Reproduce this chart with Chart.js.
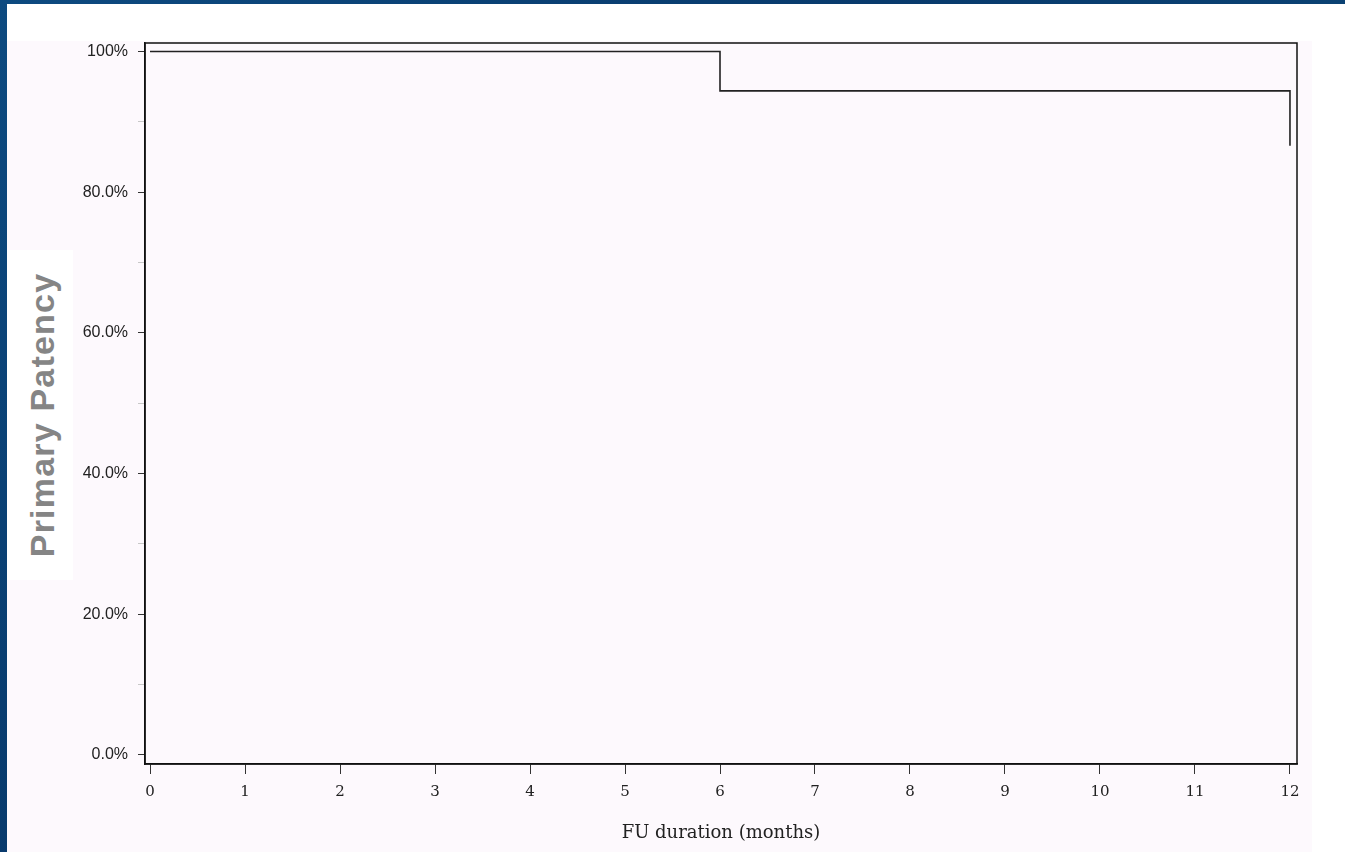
<!DOCTYPE html>
<html>
<head>
<meta charset="utf-8">
<script src="https://cdn.jsdelivr.net/npm/chart.js@4"></script>
<style>
  html, body { margin: 0; padding: 0; width: 1345px; height: 852px; overflow: hidden; }
  body { background: linear-gradient(135deg, #0d4a80 0%, #083a6c 40%, #0b4475 70%, #062f5c 100%); position: relative; }
  #panel { position: absolute; left: 7px; top: 4px; width: 1338px; height: 848px; background: #ffffff; }
  #pink { position: absolute; left: 7px; top: 41px; width: 1305px; height: 811px; background: #fdf9fd; }
  #ybox { position: absolute; left: 7px; top: 250px; width: 66px; height: 330px; background: #ffffff; }
  #ytitle { position: absolute; left: 42px; top: 415px; transform: translate(-50%, -50%) rotate(-90deg);
            font-family: "Liberation Sans", Arial, sans-serif; font-weight: bold; font-size: 34px; letter-spacing: 1.2px;
            color: #858585; white-space: nowrap; }
  canvas { position: absolute; left: 0; top: 0; }
</style>
</head>
<body>
<div id="panel"></div>
<div id="pink"></div>
<div id="ybox"></div>
<div id="ytitle">Primary Patency</div>
<canvas id="c" width="1345" height="852"></canvas>
<script>
const months = [0, 6, 12];
const patency = [100, 94.4, 86.6];
const xTicks = [0, 1, 2, 3, 4, 5, 6, 7, 8, 9, 10, 11, 12];
const yTicks = [0, 10, 20, 30, 40, 50, 60, 70, 80, 90, 100];
const yLabelStep = 20;
const xTitle = 'FU duration (months)';

const framePlugin = {
  id: 'frame',
  afterDraw(chart) {
    const {ctx, chartArea: a} = chart;
    ctx.save();
    ctx.strokeStyle = '#111';
    ctx.lineWidth = 1.5;
    ctx.strokeRect(a.left, a.top, a.right - a.left, a.bottom - a.top);
    ctx.restore();
  }
};

new Chart(document.getElementById('c'), {
  type: 'scatter',
  data: {
    datasets: [{
      data: months.map((m, i) => ({x: m, y: patency[i]})),
      showLine: true,
      stepped: 'before',
      borderColor: '#222',
      borderWidth: 1.6,
      pointRadius: 0,
      fill: false
    }]
  },
  plugins: [framePlugin],
  options: {
    responsive: false,
    animation: false,
    layout: { padding: { top: 43, right: 48, left: 0, bottom: 0 } },
    plugins: { legend: { display: false }, tooltip: { enabled: false } },
    scales: {
      x: {
        type: 'linear',
        min: -0.053,
        max: 12.074,
        afterBuildTicks(s) { s.ticks = xTicks.map(v => ({value: v})); },
        afterFit(s) { s.height = 88; },
        grid: { drawOnChartArea: false, drawTicks: true, tickLength: 10, color: '#333', tickWidth: 1 },
        border: { display: true, color: '#111', width: 1.5 },
        ticks: {
          padding: 9,
          color: '#222',
          font: { family: '"DejaVu Serif", "Liberation Serif", serif', size: 15 },
          autoSkip: false,
          maxRotation: 0,
          callback: v => String(v)
        },
        title: {
          display: true,
          text: xTitle,
          color: '#222',
          font: { family: '"DejaVu Serif", "Liberation Serif", serif', size: 18 },
          padding: { top: 0, bottom: 8 }
        }
      },
      y: {
        type: 'linear',
        min: -1.28,
        max: 101.21,
        afterBuildTicks(s) { s.ticks = yTicks.map(v => ({value: v})); },
        afterFit(s) { s.width = 145; },
        grid: {
          drawOnChartArea: false, drawTicks: true, tickLength: 7, tickWidth: 1,
          color: c => (c.tick && c.tick.value % yLabelStep === 0) ? '#333' : '#c8c8c8'
        },
        border: { display: true, color: '#111', width: 1.5 },
        ticks: {
          padding: 10,
          color: '#222',
          font: { family: '"Liberation Sans", Arial, sans-serif', size: 16 },
          autoSkip: false,
          callback: v => (v % yLabelStep === 0) ? (v === 100 ? '100%' : v.toFixed(1) + '%') : ''
        }
      }
    }
  }
});
</script>
</body>
</html>
